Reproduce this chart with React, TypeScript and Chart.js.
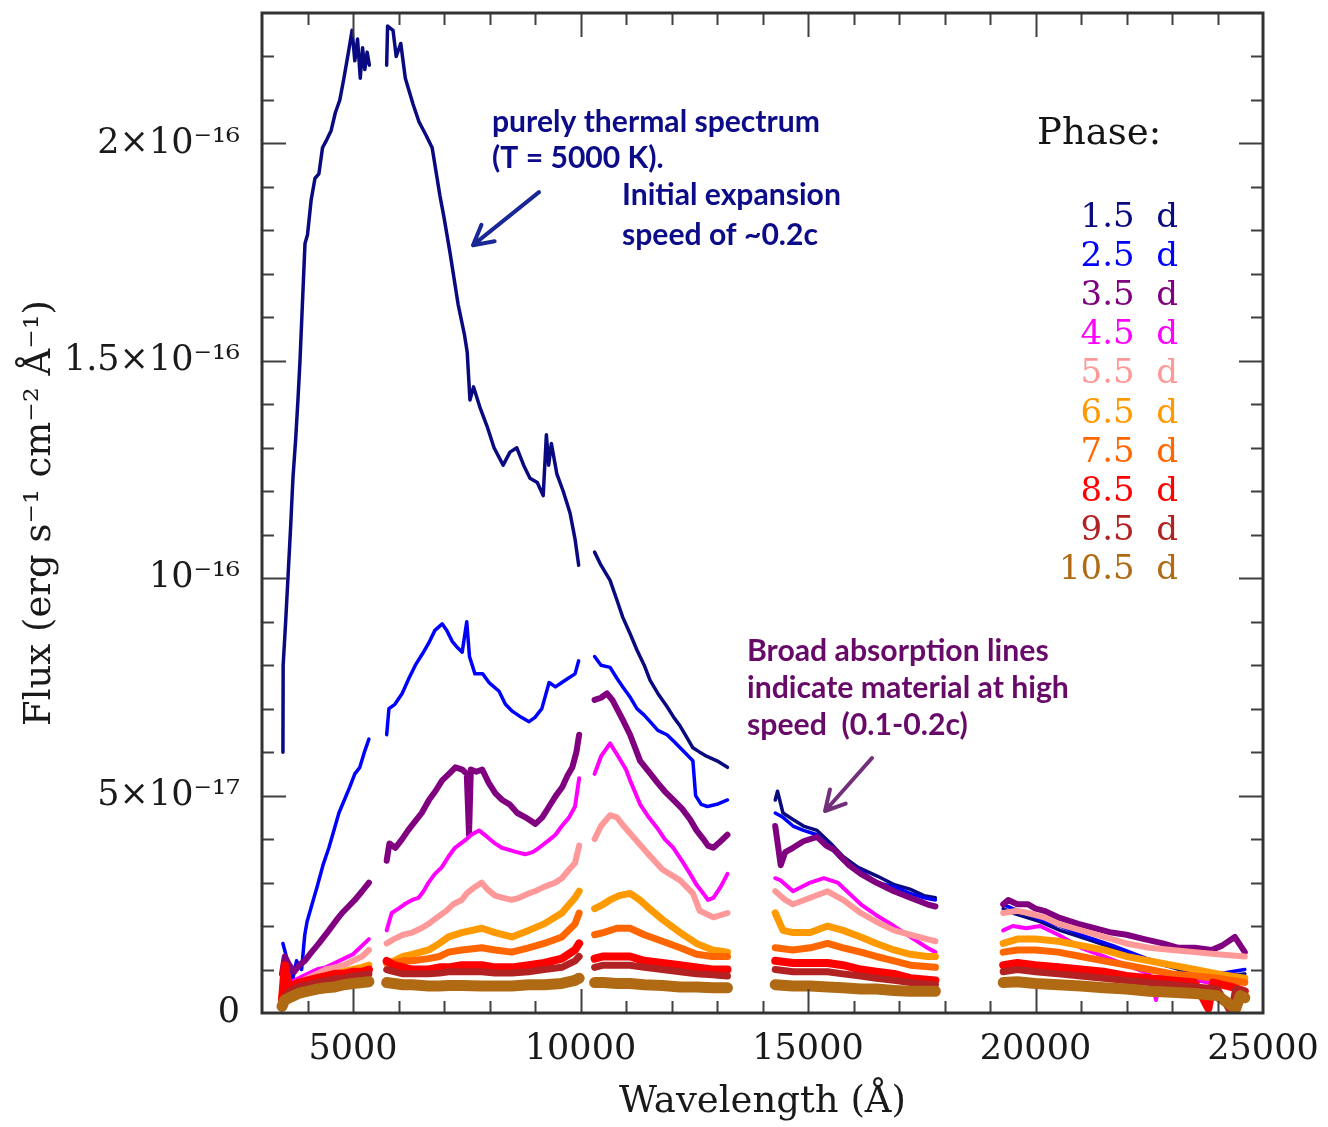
import React, { useEffect, useRef } from 'react';
import { Chart, registerables } from 'chart.js';

Chart.register(...registerables);

// ---------------- DATA ----------------
// Wavelength windows (Å) covered by the spectra; gaps between them are telluric bands.
const segments: number[][] = [
  [3400, 5400],
  [5700, 10050],
  [10250, 13300],
  [14250, 17850],
  [19250, 24700],
];

// Flux values are in units of 1e-17 erg s^-1 cm^-2 Å^-1, pairs of [wavelength Å, flux]
const flux_1_5: number[][] = [
  [3460, 6.0], [3465, 8.0], [3520, 9.0], [3570, 10.0], [3630, 11.2], [3680, 12.3], [3740, 13.2], [3790, 14.1], [3835, 15.0], [3900, 16.6], [3945, 17.7], [4000, 17.9], [4080, 18.7], [4165, 19.2], [4250, 19.3], [4330, 19.9], [4430, 20.1], [4520, 20.3], [4610, 20.7], [4710, 21.0], [4800, 21.5], [4900, 22.1], [4980, 22.6], [5040, 21.9], [5100, 22.4], [5160, 21.5], [5210, 22.2], [5260, 21.7], [5310, 22.1], [5360, 21.8],
  [5740, 21.8], [5760, 22.7], [5880, 22.6], [5950, 22.0], [6050, 22.3], [6150, 21.5], [6320, 20.9], [6450, 20.5], [6600, 20.2], [6740, 19.9], [6910, 18.8], [7000, 18.3], [7130, 17.5], [7310, 16.3], [7450, 15.6], [7510, 15.2], [7570, 14.1], [7650, 14.4], [7800, 13.9], [7945, 13.5], [8100, 13.0], [8300, 12.6], [8450, 12.9], [8600, 13.0], [8750, 12.6], [8890, 12.3], [9050, 12.2], [9180, 11.9], [9250, 13.3], [9300, 12.6], [9360, 13.1], [9480, 12.4], [9620, 12.0], [9770, 11.5], [9880, 10.9], [9960, 10.3],
  [10310, 10.6], [10450, 10.3], [10650, 9.95], [10800, 9.5], [10930, 9.1], [11100, 8.7], [11240, 8.35], [11400, 8.0], [11530, 7.65], [11700, 7.35], [11900, 7.05], [12050, 6.8], [12190, 6.6], [12330, 6.35], [12470, 6.1], [12620, 6.0], [12780, 5.9], [13000, 5.8], [13230, 5.65],
  [14280, 4.9], [14330, 5.1], [14450, 4.6], [14670, 4.45], [14900, 4.3], [15200, 4.2], [15500, 3.9], [15770, 3.6], [16100, 3.35], [16520, 3.15], [16900, 2.95], [17240, 2.85], [17550, 2.7], [17800, 2.65],
  [19290, 2.4], [19500, 2.3], [19800, 2.2], [20100, 2.1], [20540, 1.9], [21130, 1.7], [21700, 1.5], [22450, 1.2], [23000, 1.05], [23460, 0.9], [24000, 0.85], [24600, 0.9],
];

const flux_2_5: number[][] = [
  [3460, 1.6], [3560, 1.2], [3680, 0.8], [3760, 1.2], [3870, 1.0], [3940, 1.8], [3990, 2.1], [4100, 2.5], [4210, 2.9], [4340, 3.4], [4470, 3.8], [4580, 4.2], [4690, 4.6], [4810, 4.9], [4930, 5.2], [5040, 5.5], [5150, 5.65], [5250, 6.0], [5350, 6.3],
  [5740, 6.4], [5790, 7.0], [5920, 7.1], [6080, 7.35], [6230, 7.7], [6370, 8.0], [6520, 8.25], [6660, 8.5], [6800, 8.8], [6960, 8.95], [7060, 8.8], [7180, 8.55], [7300, 8.4], [7400, 8.3], [7500, 9.0], [7560, 8.2], [7680, 7.8], [7850, 7.8], [7990, 7.6], [8210, 7.4], [8350, 7.1], [8490, 6.95], [8700, 6.8], [8870, 6.7], [9000, 6.8], [9150, 7.0], [9310, 7.6], [9450, 7.5], [9590, 7.6], [9730, 7.7], [9880, 7.8], [9960, 8.1],
  [10310, 8.2], [10450, 8.0], [10650, 7.95], [10800, 7.7], [10930, 7.5], [11100, 7.25], [11240, 7.0], [11400, 6.85], [11530, 6.7], [11700, 6.5], [11900, 6.4], [12050, 6.25], [12190, 6.1], [12330, 5.95], [12470, 5.8], [12530, 5.0], [12650, 4.8], [12790, 4.75], [13000, 4.8], [13230, 4.9],
  [14280, 4.6], [14450, 4.5], [14670, 4.3], [14900, 4.2], [15200, 4.1], [15500, 3.8], [15770, 3.5], [16100, 3.3], [16520, 3.0], [16900, 2.9], [17240, 2.75], [17550, 2.65], [17800, 2.6],
  [19290, 2.5], [19500, 2.4], [19800, 2.3], [20100, 2.15], [20540, 2.0], [21130, 1.75], [21700, 1.55], [22450, 1.25], [23000, 1.1], [23460, 0.95], [24000, 0.9], [24600, 1.0],
];

const flux_3_5: number[][] = [
  [3440, 0.9], [3500, 1.3], [3600, 1.1], [3710, 0.95], [3820, 1.1], [3940, 1.2], [4090, 1.4], [4250, 1.6], [4360, 1.75], [4470, 1.9], [4610, 2.1], [4760, 2.3], [4900, 2.45], [5040, 2.6], [5200, 2.8], [5350, 3.0],
  [5740, 3.5], [5800, 3.9], [5930, 3.8], [6080, 4.0], [6210, 4.2], [6360, 4.4], [6510, 4.6], [6670, 4.9], [6810, 5.1], [6960, 5.35], [7110, 5.5], [7250, 5.65], [7400, 5.6], [7500, 5.5], [7550, 4.1], [7590, 5.6], [7710, 5.55], [7840, 5.6], [7980, 5.3], [8130, 5.05], [8280, 4.9], [8440, 4.8], [8610, 4.6], [8790, 4.5], [9010, 4.35], [9160, 4.5], [9310, 4.75], [9460, 5.0], [9600, 5.2], [9710, 5.45], [9820, 5.65], [9910, 6.0], [9970, 6.4],
  [10310, 7.2], [10450, 7.25], [10580, 7.35], [10700, 7.2], [10800, 7.0], [10950, 6.7], [11090, 6.4], [11200, 6.1], [11310, 5.8], [11500, 5.55], [11690, 5.3], [11850, 5.1], [12040, 4.9], [12230, 4.7], [12410, 4.45], [12550, 4.2], [12700, 4.0], [12800, 3.85], [12920, 3.8], [13080, 3.95], [13230, 4.1],
  [14280, 4.3], [14400, 3.4], [14500, 3.7], [14670, 3.8], [14900, 3.95], [15200, 4.05], [15400, 3.85], [15580, 3.75], [15900, 3.4], [16160, 3.2], [16500, 3.0], [16890, 2.8], [17250, 2.65], [17620, 2.5], [17800, 2.45],
  [19290, 2.5], [19400, 2.6], [19600, 2.5], [19840, 2.5], [20000, 2.4], [20190, 2.35], [20500, 2.2], [20940, 2.05], [21300, 1.95], [21670, 1.85], [22000, 1.8], [22390, 1.7], [22800, 1.6], [23140, 1.5], [23500, 1.5], [23870, 1.45], [24100, 1.55], [24380, 1.75], [24600, 1.4],
];

const flux_4_5: number[][] = [
  [3440, 0.6], [3600, 0.7], [3800, 0.8], [4000, 0.9], [4200, 1.0], [4400, 1.05], [4600, 1.15], [4800, 1.25], [5000, 1.35], [5200, 1.55], [5350, 1.7],
  [5740, 1.9], [5850, 2.3], [6000, 2.4], [6130, 2.5], [6300, 2.6], [6440, 2.65], [6550, 2.8], [6660, 3.0], [6800, 3.2], [6950, 3.35], [7100, 3.6], [7240, 3.8], [7460, 3.97], [7600, 4.1], [7770, 4.2], [7950, 4.05], [8120, 3.9], [8270, 3.8], [8430, 3.75], [8600, 3.7], [8780, 3.65], [8950, 3.7], [9090, 3.8], [9300, 3.97], [9450, 4.1], [9590, 4.3], [9750, 4.5], [9880, 4.75], [9970, 5.4],
  [10310, 5.5], [10450, 5.9], [10650, 6.2], [10800, 5.95], [11000, 5.6], [11090, 5.35], [11310, 4.8], [11500, 4.5], [11690, 4.25], [11850, 4.0], [12040, 3.8], [12230, 3.5], [12410, 3.2], [12550, 2.95], [12700, 2.75], [12800, 2.6], [12920, 2.65], [13080, 2.9], [13230, 3.2],
  [14280, 3.1], [14400, 3.05], [14670, 2.8], [15050, 3.0], [15350, 3.1], [15650, 3.0], [16160, 2.5], [16500, 2.25], [16890, 2.0], [17250, 1.75], [17620, 1.5], [17800, 1.4],
  [19290, 1.9], [19500, 2.0], [19800, 1.95], [20100, 2.0], [20500, 1.8], [21000, 1.5], [21500, 1.3], [22000, 1.1], [22500, 0.9], [22650, 0.3], [22750, 0.9], [23300, 0.8], [23800, 0.7], [24300, 0.6], [24600, 0.5],
];

const flux_5_5: number[][] = [
  [3440, 0.5], [3600, 0.6], [3800, 0.7], [4000, 0.8], [4200, 0.9], [4400, 1.0], [4600, 1.05], [4800, 1.1], [5000, 1.2], [5200, 1.3], [5350, 1.45],
  [5740, 1.6], [5900, 1.7], [6100, 1.8], [6300, 1.85], [6500, 1.95], [6660, 2.05], [6850, 2.2], [7050, 2.35], [7200, 2.5], [7390, 2.6], [7500, 2.75], [7680, 2.9], [7830, 3.0], [7950, 2.85], [8120, 2.7], [8300, 2.65], [8490, 2.6], [8650, 2.65], [8860, 2.75], [9000, 2.8], [9200, 2.9], [9450, 3.0], [9590, 3.1], [9750, 3.3], [9880, 3.45], [9970, 3.85],
  [10310, 4.0], [10450, 4.3], [10650, 4.55], [10800, 4.5], [10950, 4.3], [11160, 4.05], [11450, 3.7], [11800, 3.3], [12190, 3.05], [12470, 2.75], [12620, 2.35], [12920, 2.2], [13230, 2.3],
  [14280, 2.8], [14500, 2.6], [14670, 2.5], [15050, 2.65], [15430, 2.8], [15770, 2.6], [16160, 2.3], [16500, 2.1], [16890, 1.9], [17250, 1.8], [17620, 1.7], [17800, 1.65],
  [19290, 2.3], [19600, 2.35], [19840, 2.3], [20190, 2.2], [20500, 2.05], [21000, 1.9], [21500, 1.75], [22000, 1.6], [22500, 1.5], [23000, 1.45], [23500, 1.4], [24000, 1.35], [24600, 1.3],
];

const flux_6_5: number[][] = [
  [3440, 0.4], [3600, 0.55], [3800, 0.65], [4000, 0.75], [4200, 0.8], [4400, 0.85], [4600, 0.9], [4800, 0.95], [5000, 1.0], [5200, 1.05], [5350, 1.1],
  [5740, 1.15], [5900, 1.2], [6100, 1.3], [6300, 1.35], [6660, 1.45], [6900, 1.6], [7100, 1.75], [7390, 1.85], [7830, 1.95], [8120, 1.85], [8490, 1.75], [8860, 1.9], [9200, 2.05], [9590, 2.3], [9880, 2.65], [9970, 2.8],
  [10310, 2.4], [10500, 2.5], [10650, 2.6], [10850, 2.7], [11090, 2.75], [11300, 2.6], [11460, 2.45], [11800, 2.15], [12190, 1.85], [12550, 1.6], [12900, 1.45], [13230, 1.4],
  [14280, 2.3], [14450, 1.9], [14670, 1.85], [15050, 1.85], [15430, 2.0], [15770, 1.9], [16160, 1.75], [16500, 1.6], [16890, 1.45], [17250, 1.35], [17620, 1.3], [17800, 1.3],
  [19290, 1.6], [19600, 1.7], [20000, 1.7], [20500, 1.65], [21000, 1.55], [21500, 1.45], [22000, 1.3], [22500, 1.2], [23000, 1.1], [23500, 1.0], [24000, 0.9], [24600, 0.8],
];

const flux_7_5: number[][] = [
  [3440, 0.35], [3600, 0.5], [3800, 0.6], [4000, 0.65], [4200, 0.7], [4400, 0.75], [4600, 0.8], [4800, 0.85], [5000, 0.9], [5200, 0.95], [5350, 1.0],
  [5740, 1.15], [5900, 1.15], [6100, 1.2], [6300, 1.2], [6660, 1.25], [6900, 1.3], [7100, 1.4], [7390, 1.45], [7830, 1.5], [8120, 1.45], [8490, 1.4], [8860, 1.5], [9200, 1.6], [9590, 1.75], [9880, 2.05], [9970, 2.3],
  [10310, 1.8], [10500, 1.85], [10800, 1.95], [11090, 1.95], [11400, 1.8], [11800, 1.65], [12190, 1.5], [12550, 1.35], [12900, 1.3], [13230, 1.3],
  [14280, 1.5], [14670, 1.45], [15050, 1.5], [15430, 1.6], [15770, 1.5], [16160, 1.4], [16500, 1.3], [16890, 1.2], [17250, 1.1], [17800, 1.05],
  [19290, 1.4], [19600, 1.45], [20000, 1.45], [20500, 1.4], [21000, 1.3], [21500, 1.2], [22000, 1.1], [22500, 1.0], [23000, 0.9], [23500, 0.85], [24000, 0.8], [24600, 0.7],
];

const flux_8_5: number[][] = [
  [3440, 0.3], [3500, 1.1], [3600, 0.6], [3800, 0.7], [4000, 0.75], [4200, 0.8], [4400, 0.85], [4600, 0.9], [4800, 0.9], [5000, 0.95], [5200, 0.95], [5350, 1.0],
  [5740, 1.2], [5900, 1.1], [6100, 1.05], [6300, 1.0], [6660, 1.0], [6900, 1.05], [7100, 1.05], [7390, 1.1], [7830, 1.1], [8120, 1.05], [8490, 1.05], [8860, 1.1], [9200, 1.15], [9590, 1.25], [9880, 1.45], [9970, 1.6],
  [10310, 1.25], [10500, 1.3], [10800, 1.3], [11090, 1.3], [11400, 1.2], [11800, 1.15], [12190, 1.1], [12550, 1.05], [12900, 1.0], [13230, 1.0],
  [14280, 1.2], [14670, 1.15], [15050, 1.15], [15430, 1.15], [15770, 1.1], [16160, 1.0], [16500, 0.95], [16890, 0.9], [17250, 0.8], [17800, 0.75],
  [19290, 1.1], [19600, 1.15], [20000, 1.1], [20500, 1.05], [21000, 1.0], [21500, 0.95], [22000, 0.85], [22500, 0.8], [23000, 0.75], [23500, 0.7], [23800, 0.1], [23900, 0.7], [24300, 0.6], [24600, 0.5],
];

const flux_9_5: number[][] = [
  [3440, 0.3], [3600, 0.5], [3800, 0.6], [4000, 0.65], [4200, 0.7], [4400, 0.75], [4600, 0.78], [4800, 0.8], [5000, 0.85], [5200, 0.88], [5350, 0.9],
  [5740, 1.0], [5900, 0.95], [6100, 0.9], [6300, 0.9], [6660, 0.9], [6900, 0.92], [7100, 0.95], [7390, 0.95], [7830, 0.95], [8120, 0.92], [8490, 0.92], [8860, 0.95], [9200, 1.0], [9590, 1.05], [9880, 1.2], [9970, 1.3],
  [10310, 1.05], [10500, 1.1], [10800, 1.1], [11090, 1.1], [11400, 1.05], [11800, 1.0], [12190, 0.95], [12550, 0.9], [12900, 0.88], [13230, 0.85],
  [14280, 1.0], [14670, 0.95], [15050, 0.95], [15430, 0.95], [15770, 0.9], [16160, 0.85], [16500, 0.8], [16890, 0.75], [17250, 0.7], [17800, 0.65],
  [19290, 0.95], [19600, 1.0], [20000, 0.95], [20500, 0.9], [21000, 0.85], [21500, 0.8], [22000, 0.75], [22500, 0.7], [23000, 0.65], [23500, 0.6], [24000, 0.55], [24300, 0.0], [24400, 0.55], [24600, 0.5],
];

const flux_10_5: number[][] = [
  [3440, 0.15], [3500, 0.3], [3600, 0.35], [3800, 0.45], [4000, 0.5], [4200, 0.55], [4400, 0.58], [4600, 0.6], [4800, 0.65], [5000, 0.68], [5200, 0.7], [5350, 0.72],
  [5740, 0.7], [5900, 0.68], [6100, 0.65], [6300, 0.65], [6660, 0.62], [6900, 0.62], [7100, 0.63], [7390, 0.63], [7830, 0.62], [8120, 0.62], [8490, 0.62], [8860, 0.65], [9200, 0.65], [9590, 0.68], [9880, 0.75], [9970, 0.8],
  [10310, 0.7], [10500, 0.7], [10800, 0.68], [11090, 0.68], [11400, 0.65], [11800, 0.63], [12190, 0.6], [12550, 0.6], [12900, 0.58], [13230, 0.58],
  [14280, 0.65], [14670, 0.62], [15050, 0.62], [15430, 0.6], [15770, 0.58], [16160, 0.55], [16500, 0.55], [16890, 0.52], [17250, 0.5], [17800, 0.5],
  [19290, 0.7], [19600, 0.72], [20000, 0.68], [20500, 0.65], [21000, 0.62], [21500, 0.58], [22000, 0.55], [22500, 0.5], [23000, 0.48], [23500, 0.45], [24000, 0.4], [24400, 0.1], [24500, 0.4], [24600, 0.35],
];

const phaseLabels = ['1.5  d', '2.5  d', '3.5  d', '4.5  d', '5.5  d', '6.5  d', '7.5  d', '8.5  d', '9.5  d', '10.5  d'];
const phaseSeries = [flux_1_5, flux_2_5, flux_3_5, flux_4_5, flux_5_5, flux_6_5, flux_7_5, flux_8_5, flux_9_5, flux_10_5];

const xTickValues = [5000, 10000, 15000, 20000, 25000];
const xTickLabels = ['5000', '10000', '15000', '20000', '25000'];
// y values in units of 1e-17
const yTickValues = [0, 5, 10, 15, 20];
const yTickLabels = ['0', '5×10⁻¹⁷', '10⁻¹⁶', '1.5×10⁻¹⁶', '2×10⁻¹⁶'];

// annotation texts
const thermalNote = ['purely thermal spectrum', '(T = 5000 K).'];
const speedNote = ['Initial expansion', 'speed of ~0.2c'];
const broadNote = ['Broad absorption lines', 'indicate material at high', 'speed  (0.1-0.2c)'];
const legendTitle = 'Phase:';

// ---------------- STYLE ----------------
const phaseColors = ['#0a0a80', '#0000ff', '#800080', '#ff00ff', '#ff9999', '#ff9900', '#ff6600', '#ff0000', '#b22222', '#b06a14'];
const phaseWidths = [3.5, 3.5, 6, 4, 6, 7, 7, 8, 7, 11];
const SERIF = '"DejaVu Serif", serif';
const SANS = 'Lato, "Open Sans", sans-serif';

function toPoints(pairs: number[][]) {
  const pts: { x: number; y: number | null }[] = [];
  let prev = -1;
  for (const [w, f] of pairs) {
    const seg = segments.findIndex(([a, b]) => w >= a && w <= b);
    if (prev !== -1 && seg !== prev) pts.push({ x: segments[prev][1], y: null });
    pts.push({ x: w, y: f });
    prev = seg;
  }
  return pts;
}

function fitFont(ctx: CanvasRenderingContext2D, text: string, family: string, weight: string, target: number) {
  ctx.font = `${weight} 100px ${family}`;
  const w = ctx.measureText(text).width;
  return (100 * target) / w;
}

function arrow(ctx: CanvasRenderingContext2D, x1: number, y1: number, x2: number, y2: number, color: string) {
  const a = Math.atan2(y2 - y1, x2 - x1);
  const head = 22;
  ctx.save();
  ctx.strokeStyle = color;
  ctx.lineWidth = 4;
  ctx.lineCap = 'round';
  ctx.lineJoin = 'round';
  ctx.beginPath();
  ctx.moveTo(x1, y1);
  ctx.lineTo(x2, y2);
  ctx.moveTo(x2 - head * Math.cos(a - 0.5), y2 - head * Math.sin(a - 0.5));
  ctx.lineTo(x2, y2);
  ctx.lineTo(x2 - head * Math.cos(a + 0.5), y2 - head * Math.sin(a + 0.5));
  ctx.stroke();
  ctx.restore();
}

const framePlugin = {
  id: 'frameTicks',
  afterDatasetsDraw(chart: any) {
    const { ctx, chartArea } = chart;
    const { left, right, top, bottom } = chartArea;
    const xs = chart.scales.x;
    const ys = chart.scales.y;
    ctx.save();
    ctx.strokeStyle = '#404040';
    ctx.lineWidth = 2;
    ctx.beginPath();
    for (const t of xs.ticks) {
      const v = t.value;
      if (v <= xs.min || v >= xs.max) continue;
      const px = Math.round(xs.getPixelForValue(v)) + 0.5;
      const len = v % 5000 === 0 ? 24 : 12;
      ctx.moveTo(px, bottom);
      ctx.lineTo(px, bottom - len);
      ctx.moveTo(px, top);
      ctx.lineTo(px, top + len);
    }
    for (const t of ys.ticks) {
      const v = t.value;
      if (v <= ys.min || v >= ys.max) continue;
      const py = Math.round(ys.getPixelForValue(v)) + 0.5;
      const len = Math.round(v) % 5 === 0 ? 24 : 12;
      ctx.moveTo(left, py);
      ctx.lineTo(left + len, py);
      ctx.moveTo(right, py);
      ctx.lineTo(right - len, py);
    }
    ctx.stroke();
    ctx.lineWidth = 3;
    ctx.strokeStyle = '#333';
    ctx.strokeRect(left, top, right - left, bottom - top);
    ctx.restore();
  },
};

const notesPlugin = {
  id: 'notes',
  afterDraw(chart: any) {
    const { ctx } = chart;
    const xs = chart.scales.x;
    const ys = chart.scales.y;
    const X = (v: number) => xs.getPixelForValue(v);
    const Y = (v: number) => ys.getPixelForValue(v);
    ctx.save();
    ctx.textBaseline = 'alphabetic';
    ctx.textAlign = 'left';

    // navy notes
    const s1 = fitFont(ctx, thermalNote[0], SANS, 'bold', 328);
    ctx.font = `bold ${s1}px ${SANS}`;
    ctx.fillStyle = '#0c0c88';
    ctx.fillText(thermalNote[0], X(8055), Y(20.26));
    ctx.fillText(thermalNote[1], X(8055), Y(19.43));
    ctx.fillText(speedNote[0], X(10912), Y(18.58));
    ctx.fillText(speedNote[1], X(10912), Y(17.66));
    arrow(ctx, X(9088), Y(18.88), X(7637), Y(17.66), '#1a2896');

    // purple notes
    const s2 = fitFont(ctx, broadNote[1], SANS, 'bold', 322);
    ctx.font = `bold ${s2}px ${SANS}`;
    ctx.fillStyle = '#680a68';
    ctx.fillText(broadNote[0], X(13659), Y(8.1));
    ctx.fillText(broadNote[1], X(13659), Y(7.245));
    ctx.fillText(broadNote[2], X(13659), Y(6.39));
    arrow(ctx, X(16407), Y(5.865), X(15374), Y(4.646), '#72307a');

    // legend
    ctx.font = `37px ${SERIF}`;
    ctx.fillStyle = '#151515';
    ctx.fillText(legendTitle, X(20033), Y(19.99));
    ctx.font = `34px ${SERIF}`;
    ctx.textAlign = 'right';
    chart.data.datasets.forEach((ds: any, i: number) => {
      ctx.fillStyle = ds.borderColor;
      ctx.fillText(ds.label, X(23132), Y(18.08 - i * 0.9));
    });
    ctx.restore();
  },
};

export default function App() {
  const ref = useRef<HTMLCanvasElement>(null);
  useEffect(() => {
    const datasets = phaseSeries.map((s, i) => ({
      label: phaseLabels[i],
      data: toPoints(s),
      borderColor: phaseColors[i],
      backgroundColor: phaseColors[i],
      borderWidth: phaseWidths[i],
      borderJoinStyle: 'round',
      borderCapStyle: 'round',
      pointRadius: 0,
      tension: 0,
      spanGaps: false,
      fill: false,
      order: phaseSeries.length - i,
    }));
    const chart = new Chart(ref.current as HTMLCanvasElement, {
      type: 'line',
      data: { datasets },
      options: {
        animation: false,
        responsive: false,
        maintainAspectRatio: false,
        devicePixelRatio: 1,
        layout: { padding: { top: 13, right: 65, bottom: 0, left: 0 } },
        plugins: { legend: { display: false }, tooltip: { enabled: false } },
        scales: {
          x: {
            type: 'linear',
            min: 3000,
            max: 25000,
            grid: { display: false, drawTicks: false },
            border: { display: false },
            ticks: {
              stepSize: 1000,
              autoSkip: false,
              maxRotation: 0,
              minRotation: 0,
              padding: 16,
              color: '#1a1a1a',
              font: { family: SERIF, size: 35 },
              callback: (v: any) => {
                const i = xTickValues.indexOf(Number(v));
                return i >= 0 ? xTickLabels[i] : '';
              },
            },
            title: {
              display: true,
              text: 'Wavelength (Å)',
              color: '#1a1a1a',
              font: { family: SERIF, size: 37 },
              padding: { top: 0, bottom: 2 },
            },
            afterFit: (s: any) => {
              s.height = 114;
              s.paddingLeft = 0;
              s.paddingRight = 0;
            },
          },
          y: {
            type: 'linear',
            min: 0,
            max: 23,
            grid: { display: false, drawTicks: false },
            border: { display: false },
            ticks: {
              stepSize: 1,
              autoSkip: false,
              padding: 22,
              color: '#1a1a1a',
              font: { family: SERIF, size: 35 },
              callback: (v: any) => {
                const i = yTickValues.findIndex((t) => Math.abs(t - Number(v)) < 1e-6);
                return i >= 0 ? yTickLabels[i] : '';
              },
            },
            title: {
              display: true,
              text: 'Flux (erg s⁻¹ cm⁻² Å⁻¹)',
              color: '#1a1a1a',
              font: { family: SERIF, size: 37 },
              padding: { top: 18, bottom: 0 },
            },
            afterFit: (s: any) => {
              s.width = 262;
              s.paddingTop = 0;
              s.paddingBottom = 0;
            },
          },
        },
      },
      plugins: [framePlugin, notesPlugin],
    } as any);
    return () => chart.destroy();
  }, []);
  return (
    <div style={{ position: 'fixed', left: 0, top: 0, width: 1328, height: 1127, background: '#fff' }}>
      <canvas ref={ref} width={1328} height={1127} style={{ display: 'block', width: 1328, height: 1127 }} />
    </div>
  );
}
